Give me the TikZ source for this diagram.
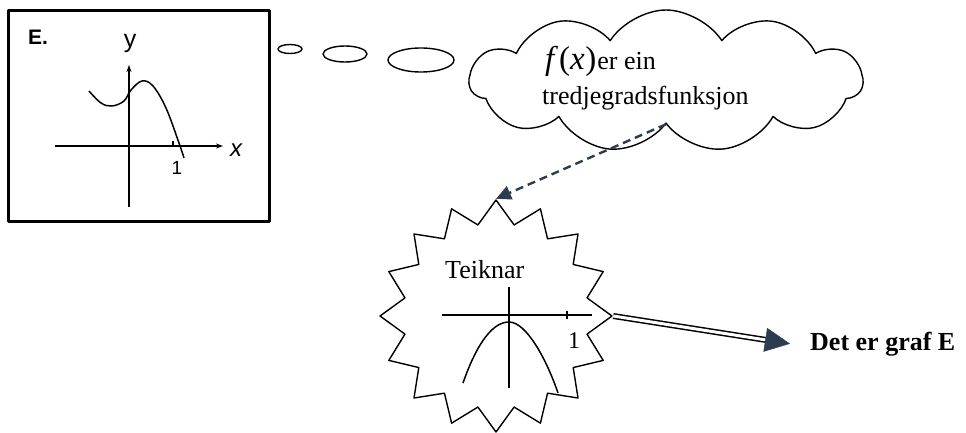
\documentclass[tikz,border=0pt]{standalone}
\usepackage{fontspec}
\setmainfont{Liberation Serif}
\newfontfamily\sansE{Liberation Sans}
\usetikzlibrary{shapes.geometric,shapes.symbols,arrows.meta,calc}
\definecolor{arrowc}{RGB}{45,60,78}
\begin{document}
\begin{tikzpicture}[x=1pt,y=-1pt, line join=round,
  shp/.style={draw, line width=1.4pt},
  axisline/.style={line width=1.3pt},
  txt/.style={inner sep=0pt, font=\fontsize{26}{30}\selectfont},
  bubble/.style={shp, ellipse, inner sep=0pt},
  dasharrow/.style={arrowc, line width=2.4pt, dash pattern=on 8pt off 5pt, -{Triangle[length=15pt,width=14pt]}},
  dblline/.style={draw=black, line width=1.5pt, double=white, double distance=3pt},
  fatarrow/.style={arrowc, -{Triangle[length=25pt,width=24pt]}}]
\useasboundingbox (0,0) rectangle (966,433);

% ---- box E ----
\node[draw, line width=2.2pt, minimum width=261pt, minimum height=211pt, inner sep=0pt] (ebox) at (139,116) {};
\node[inner sep=0pt, font=\sansE\bfseries\fontsize{21}{22}\selectfont] (elabel) at (38,37) {E.};
\node[inner sep=0pt, font=\sansE\fontsize{25}{26}\selectfont] (ylabel) at (130,43) {y};
\node[inner sep=0pt, font=\sansE\itshape\fontsize{24}{26}\selectfont] (xlabel) at (236,150) {x};
\node[inner sep=0pt, font=\sansE\fontsize{19}{20}\selectfont] (onelabel) at (177,168) {1};
\coordinate (eyb) at (129,207);
\coordinate (eyt) at (129,65);
\coordinate (exl) at (55,146);
\coordinate (exr) at (223,146);
\draw[axisline, -{Stealth[length=7pt,width=5pt]}] (eyb) -- (eyt);
\draw[axisline, -{Stealth[length=7pt,width=5pt]}] (exl) -- (exr);
\draw[axisline] (173,141) -- (173,146);
\draw[line width=1.5pt] plot[smooth, tension=0.6] coordinates {(89,91) (101,103) (112,106) (124,101) (131,90) (142,81) (153,86) (166,108) (179,143) (184,158)};

% ---- thought bubbles ----
\node[bubble, minimum width=24pt, minimum height=9pt] (b1) at (290,49) {};
\node[bubble, minimum width=44pt, minimum height=16pt] (b2) at (345,54) {};
\node[bubble, minimum width=66pt, minimum height=24pt] (b3) at (421,60) {};

% ---- cloud ----
\node[shp, cloud, cloud puffs=11, cloud puff arc=115, minimum width=393pt, minimum height=142pt, inner sep=0pt] (cloud) at (666,81) {};
\node[txt, anchor=base west] (line1) at (545,70) {{\fontsize{33}{34}\selectfont\textit{f}\kern1pt(\textit{x}\kern0.5pt)}\kern1pt er ein};
\node[txt, anchor=base west] (line2) at (542,105) {tredjegradsfunksjon};

% ---- star ----
\node[shp, star, star points=16, star point ratio=1.25, minimum size=232pt, inner sep=0pt] (star) at (496,316) {};
\node[txt, anchor=base west] (teiknar) at (445,278) {Teiknar};
\node[txt, font=\fontsize{24}{26}\selectfont] (onestar) at (574,341) {1};
\draw[axisline] (509,287) -- (509,388);
\draw[axisline] (442,315) -- (592,315);
\draw[axisline] (567,311) -- (567,319);
\draw[line width=1.5pt] (463,383) .. controls (478,340) and (494,322) .. (509,322) .. controls (526,322) and (546,358) .. (558,393);

% ---- connectors ----
\draw[dasharrow] (cloud.south) -- (star.north);
\node[txt, anchor=base west, font=\bfseries\fontsize{26}{30}\selectfont] (det) at (810,350) {Det er graf E};
\coordinate (tip) at ($(det.west)+(-20pt,0)$);
\draw[dblline, shorten >=22pt] (star.east) -- (tip);
\draw[fatarrow] ($(tip)!25pt!(star.east)$) -- (tip);
\end{tikzpicture}
\end{document}
